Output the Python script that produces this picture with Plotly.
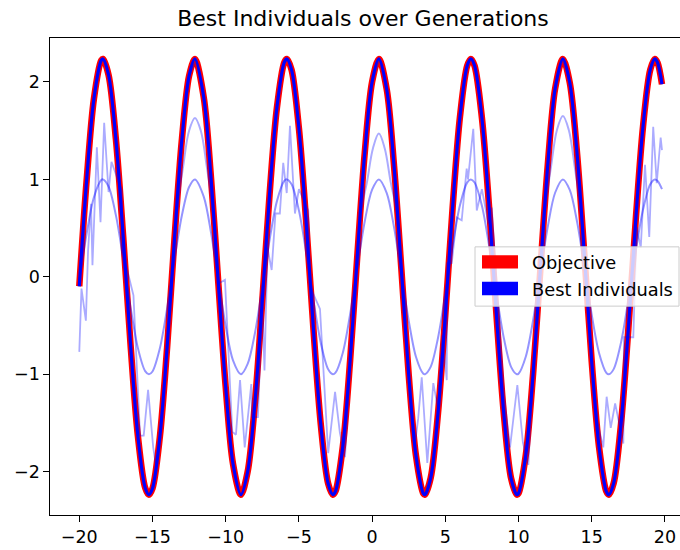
import plotly.graph_objects as go

# ---------------- data ----------------
OBJ_X = [-20.0, -19.5, -19.0, -18.5, -18.386, -18.0, -17.5, -17.0, -16.5, -16.0,
         -15.5, -15.245, -15.0, -14.5, -14.0, -13.5, -13.0, -12.5, -12.103, -11.5,
         -11.0, -10.5, -10.0, -9.5, -8.962, -8.5, -8.0, -7.5, -7.0, -6.5,
         -6.0, -5.82, -5.5, -5.0, -4.5, -4.0, -3.5, -3.0, -2.678, -2.5,
         -2.0, -1.5, -1.0, -0.5, 0.0, 0.464, 1.0, 1.5, 2.0, 2.5,
         3.0, 3.5, 3.605, 4.0, 4.5, 5.0, 5.5, 6.0, 6.5, 6.747,
         7.0, 7.5, 8.0, 8.5, 9.0, 9.5, 9.888, 10.0, 10.5, 11.0,
         11.5, 12.0, 12.5, 13.03, 13.5, 14.0, 14.5, 15.0, 15.5, 16.0,
         16.171, 16.5, 17.0, 17.5, 18.0, 18.5, 19.0, 19.313, 19.5, 19.8]
OBJ_Y = [-0.097, 0.986, 1.828, 2.222, 2.236, 2.072, 1.414, 0.411, -0.693, -1.630,
         -2.165, -2.236, -2.172, -1.646, -0.722, 0.386, 1.395, 2.062, 2.236, 1.843,
         1.010, -0.071, -1.130, -1.919, -2.236, -2.000, -1.288, -0.245, 0.851, 1.738,
         2.200, 2.236, 2.124, 1.526, 0.555, -0.551, -1.522, -2.122, -2.236, -2.201,
         -1.741, -0.856, 0.239, 1.276, 2.000, 2.236, 1.922, 1.136, 0.077, -1.004,
         -1.839, -2.224, -2.236, -2.065, -1.402, -0.392, 0.712, 1.641, 2.168, 2.236,
         2.165, 1.632, 0.698, -0.405, -1.411, -2.073, -2.236, -2.222, -1.826, -0.988,
         0.091, 1.151, 1.930, 2.236, 1.994, 1.265, 0.225, -0.869, -1.746, -2.203,
         -2.236, -2.117, -1.510, -0.538, 0.569, 1.537, 2.127, 2.236, 2.197, 1.977]

# early best individual: smooth, amplitude ~1 (same x as the objective)
GEN_A_Y = [-0.043, 0.441, 0.817, 0.994, 1.000, 0.927, 0.633, 0.184, -0.310, -0.729,
           -0.968, -1.000, -0.971, -0.736, -0.323, 0.173, 0.624, 0.922, 1.000, 0.824,
           0.452, -0.032, -0.505, -0.858, -1.000, -0.894, -0.576, -0.110, 0.381, 0.777,
           0.984, 1.000, 0.950, 0.682, 0.248, -0.246, -0.681, -0.949, -1.000, -0.984,
           -0.779, -0.383, 0.107, 0.571, 0.894, 1.000, 0.860, 0.508, 0.034, -0.449,
           -0.823, -0.995, -1.000, -0.924, -0.627, -0.175, 0.318, 0.734, 0.970, 1.000,
           0.968, 0.730, 0.312, -0.181, -0.631, -0.927, -1.000, -0.994, -0.817, -0.442,
           0.041, 0.515, 0.863, 1.000, 0.892, 0.566, 0.101, -0.389, -0.781, -0.985,
           -1.000, -0.947, -0.675, -0.240, 0.255, 0.687, 0.951, 1.000, 0.983, 0.900]

# intermediate best individual: lower peaks at three crests (elsewhere on the objective)
GEN_B_X = [-13.7, -13.3, -12.9, -12.5, -12.1, -11.7, -11.3, -10.9, -10.5, None,
           -1.14, -0.74, -0.34, 0.06, 0.46, 0.86, 1.26, 1.66, 2.06, None,
           11.43, 11.83, 12.23, 12.63, 13.03, 13.43, 13.83, 14.23, 14.63]
GEN_B_Y = [-0.065, 0.70, 1.14, 1.50, 1.63, 1.50, 1.14, 0.70, -0.065, None,
           -0.065, 0.68, 0.98, 1.32, 1.47, 1.32, 0.98, 0.68, -0.065, None,
           -0.065, 0.70, 1.14, 1.51, 1.65, 1.51, 1.14, 0.70, -0.065]

# later best individual: noisy
GEN_C_X = [-20.0, -19.85, -19.55, -19.4, -19.2, -19.1, -18.8, -18.55, -18.3, -18.0,
           -17.8, -17.5, -17.1, -17.05, -16.7, -16.3, -15.85, -15.6, -15.3, -14.95,
           -14.75, -14.5, -14.0, -13.5, -13.0, -12.5, -12.0, -11.5, -11.0, -10.5,
           -10.05, -9.55, -9.3, -9.02, -8.7, -8.25, -8.2, -7.8, -7.5, -7.35,
           -7.15, -6.86, -6.6, -6.3, -6.07, -5.83, -5.61, -5.27, -5.0, -4.36,
           -4.24, -3.56, -3.0, -2.53, -2.2, -1.85, -1.5, -1.0, -0.5, 0.0,
           0.5, 1.0, 1.5, 2.0, 2.5, 2.9, 3.15, 3.39, 3.77, 4.18,
           4.5, 4.8, 5.1, 5.12, 5.44, 5.78, 6.12, 6.46, 6.55, 6.91,
           7.15, 7.5, 7.94, 8.17, 8.6, 9.0, 9.42, 9.92, 10.3, 10.67,
           11.0, 11.5, 12.0, 12.5, 13.0, 13.5, 14.0, 14.5, 15.0, 15.4,
           15.79, 16.02, 16.3, 16.6, 17.16, 17.2, 17.84, 18.07, 18.35, 18.64,
           18.93, 19.2, 19.44, 19.71, 19.8]
GEN_C_Y = [-0.77, -0.12, -0.45, 0.27, 0.75, 0.12, 1.33, 0.56, 1.58, 0.87,
           1.18, 1.05, 0.89, 0.27, 0.05, -0.19, -1.63, -1.63, -1.16, -1.75,
           -1.95, -1.646, -0.722, 0.386, 1.395, 2.062, 2.224, 1.843, 1.010, -0.071,
           -0.03, -1.59, -1.62, -1.06, -1.75, -1.10, -1.44, -1.44, -0.245, -0.96,
           0.30, 0.07, 0.65, 0.65, 1.17, 0.86, 1.55, 0.65, 0.90, 0.68,
           -0.10, -0.33, -1.81, -1.18, -1.60, -1.85, -0.856, 0.239, 1.276, 2.000,
           2.234, 1.922, 1.136, 0.077, -1.004, -1.75, -1.45, -1.03, -1.91, -1.09,
           -1.35, -0.60, -1.06, 0.14, 0.14, 0.61, 0.58, 1.11, 1.00, 1.52,
           0.68, 0.90, 0.55, 0.71, -0.24, -1.20, -1.75, -1.11, -1.70, -1.93,
           -0.988, 0.091, 1.151, 1.930, 2.235, 1.994, 1.265, 0.225, -0.869, -1.50,
           -1.75, -1.23, -1.55, -1.30, -1.71, -0.62, -0.62, 0.51, 0.30, 1.15,
           0.41, 1.54, 0.96, 1.43, 1.30]

X_TICKS = [-20, -15, -10, -5, 0, 5, 10, 15, 20]
Y_TICKS = [-2, -1, 0, 1, 2]
TITLE = "Best Individuals over Generations"
LEGEND_LABELS = ["Objective", "Best Individuals"]

# ---------------- figure ----------------
FAINT = "rgba(0,0,255,0.33)"
fig = go.Figure()
fig.add_trace(go.Scatter(x=OBJ_X, y=OBJ_Y, mode="lines", line=dict(color="red", width=6.5, shape="spline", smoothing=0.9),
                         showlegend=False, hoverinfo="skip"))
fig.add_trace(go.Scatter(x=OBJ_X, y=GEN_A_Y, mode="lines", line=dict(color="rgba(0,0,255,0.42)", width=2, shape="spline", smoothing=0.9),
                         showlegend=False, hoverinfo="skip"))
fig.add_trace(go.Scatter(x=GEN_B_X, y=GEN_B_Y, mode="lines", line=dict(color=FAINT, width=2, shape="spline"),
                         showlegend=False, hoverinfo="skip", connectgaps=False))
fig.add_trace(go.Scatter(x=GEN_C_X, y=GEN_C_Y, mode="lines", line=dict(color=FAINT, width=1.8),
                         showlegend=False, hoverinfo="skip"))
fig.add_trace(go.Scatter(x=OBJ_X, y=OBJ_Y, mode="lines", line=dict(color="blue", width=3.2, shape="spline", smoothing=0.9),
                         showlegend=False, hoverinfo="skip"))

FONT = "DejaVu Sans"
axis_common = dict(showgrid=False, zeroline=False, showline=True, linecolor="#000", linewidth=1.2,
                   ticks="outside", ticklen=5.5, tickwidth=1.2, tickcolor="#000",
                   tickfont=dict(family=FONT, size=17.5, color="#000"))
fig.update_xaxes(range=[-22.0, 21.03], tickvals=X_TICKS, mirror=True, **axis_common)
fig.update_yaxes(range=[-2.444, 2.451], tickvals=Y_TICKS, mirror=False, **axis_common)

# matplotlib-like legend with patch handles
W, L, T, B = 630.0, 50.0, 37.7, 515.0
H = B - T
def px(x):
    return (x - L) / W
def py(y):
    return (B - y) / H

shapes = [
    dict(type="rect", xref="paper", yref="paper", x0=px(475), x1=px(679), y0=py(306), y1=py(246.7),
         fillcolor="rgba(255,255,255,0.8)", line=dict(color="#cccccc", width=1)),
    dict(type="rect", xref="paper", yref="paper", x0=px(482), x1=px(518), y0=py(268.3), y1=py(255),
         fillcolor="red", line=dict(width=0)),
    dict(type="rect", xref="paper", yref="paper", x0=px(482), x1=px(518), y0=py(295), y1=py(281.7),
         fillcolor="blue", line=dict(width=0)),
]
annotations = [
    dict(xref="paper", yref="paper", x=px(530), y=py(262.5), text=LEGEND_LABELS[0], showarrow=False,
         xanchor="left", yanchor="middle", font=dict(family=FONT, size=17.8, color="#000")),
    dict(xref="paper", yref="paper", x=px(530), y=py(289.3), text=LEGEND_LABELS[1], showarrow=False,
         xanchor="left", yanchor="middle", font=dict(family=FONT, size=17.8, color="#000")),
]

fig.update_layout(
    width=680, height=550,
    margin=dict(l=50, r=0, t=37.7, b=35),
    paper_bgcolor="white", plot_bgcolor="white",
    title=dict(text=TITLE, x=px(363), xref="paper", xanchor="center", y=1 - 18 / 550, yanchor="middle",
               font=dict(family=FONT, size=22, color="#000")),
    shapes=shapes, annotations=annotations,
    showlegend=False,
)

fig.write_html("out.html", config={"displayModeBar": False},
               post_script="document.body.style.margin='0px';document.body.style.overflow='hidden';")
